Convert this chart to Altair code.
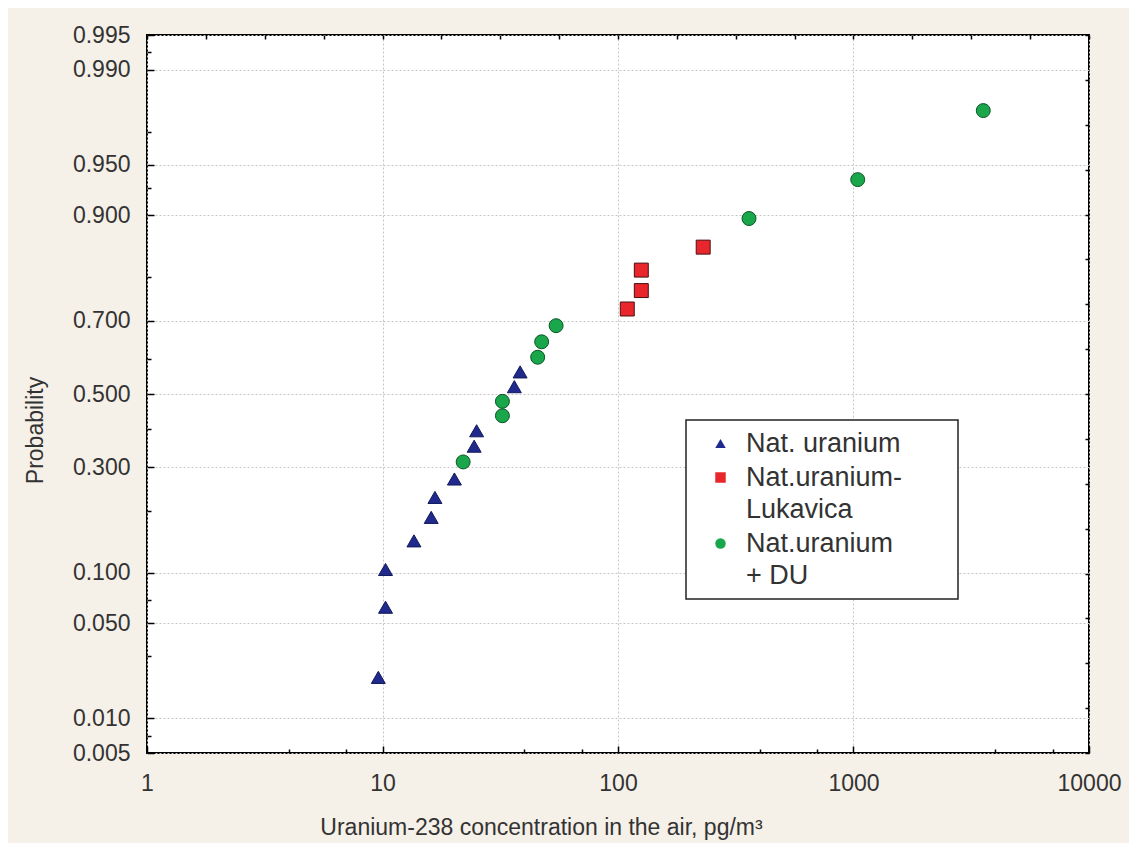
import altair as alt
import pandas as pd
from statistics import NormalDist

# ---- data ----
nat_x = [9.6, 10.3, 10.3, 13.6, 16.1, 16.7, 20.2, 24.5, 25.1, 36.3, 38.4]
nat_p = [0.021, 0.063, 0.104, 0.146, 0.188, 0.229, 0.271, 0.354, 0.396, 0.521, 0.563]
luk_x = [109.5, 125.6, 125.6, 230.0]
luk_p = [0.729, 0.771, 0.813, 0.854]
du_x = [22.0, 32.3, 32.3, 45.6, 47.4, 54.6, 360.0, 1042.0, 3557.0]
du_p = [0.313, 0.438, 0.479, 0.604, 0.646, 0.688, 0.896, 0.938, 0.979]

series_names = ["Nat. uranium", "Nat.uranium-Lukavica", "Nat.uranium + DU"]
series_fill = ["#1F2A8C", "#E8262B", "#1AA64A"]
series_stroke = ["#121a5a", "#4a1010", "#0b5426"]
series_shape = ["triangle-up", "square", "circle"]

y_major_p = [0.005, 0.010, 0.050, 0.100, 0.300, 0.500, 0.700, 0.900, 0.950, 0.990, 0.995]
y_minor_p = [0.007, 0.03, 0.07, 0.2, 0.4, 0.6, 0.8, 0.93, 0.97, 0.993]
x_major = [1, 10, 100, 1000, 10000]
x_minor = [4, 7, 40, 70, 400, 700, 4000, 7000]
x_top = [1, 1.778, 3.162, 5.623, 10, 17.78, 31.62, 56.23, 100, 177.8, 316.2, 562.3,
         1000, 1778, 3162, 5623, 10000]

rows = []
for name, xs, ps in zip(series_names, [nat_x, luk_x, du_x], [nat_p, luk_p, du_p]):
    for xv, pv in zip(xs, ps):
        rows.append({"series": name, "conc": xv, "prob": pv})
df = pd.DataFrame(rows)

nd = NormalDist()
zmax = nd.inv_cdf(0.995)
y_major = [nd.inv_cdf(p) for p in y_major_p]
y_minor = [nd.inv_cdf(p) for p in y_minor_p]
y_right = [zmax * k / 8 for k in range(-8, 9)]

FONT = "Liberation Sans"
TXT = "#333333"

x_scale = alt.Scale(type="log", domain=[1, 10000], nice=False)
y_scale = alt.Scale(domain=[-zmax, zmax], nice=False, zero=False)

base = alt.Chart(df).transform_calculate(z="quantileNormal(datum.prob)")

legend = alt.Legend(
    title=" ", titleOrient="right", titlePadding=46, titleFontSize=27,
    orient="none", legendX=539, legendY=385, direction="vertical",
    fillColor="white", strokeColor="#222222", padding=10,
    symbolSize=110, symbolOffset=11, symbolStrokeWidth=0, labelOffset=12,
    labelFont=FONT, labelFontSize=27, labelColor=TXT, rowPadding=6,
    labelLimit=400,
    labelExpr="datum.label == 'Nat.uranium-Lukavica' ? ['Nat.uranium-', 'Lukavica'] : "
              "(datum.label == 'Nat.uranium + DU' ? ['Nat.uranium', '+ DU'] : datum.label)",
)

points = base.mark_point(filled=True, size=195, strokeWidth=1, opacity=1).encode(
    x=alt.X("conc:Q", scale=x_scale, axis=alt.Axis(
        orient="bottom", values=x_major, format="d", grid=True, gridColor="#c4c4c4",
        gridDash=[2, 2], gridWidth=1, domain=False, tickColor="black", tickWidth=1.5,
        tickSize={"expr": "-7"}, labelPadding=26, labelFont=FONT, labelFontSize=23,
        labelColor=TXT, title="Uranium-238 concentration in the air, pg/m³",
        titleFont=FONT, titleFontSize=23, titleFontWeight="normal", titleColor=TXT,
        titleX=394, titleY=74, titleBaseline="middle", labelFlush=False)),
    y=alt.Y("z:Q", scale=y_scale, axis=alt.Axis(
        orient="left", values=y_major, grid=True, gridColor="#c4c4c4", gridDash=[2, 2],
        gridWidth=1, domain=False, tickColor="black", tickWidth=1.5,
        tickSize={"expr": "-7"}, labelPadding=24, labelFont=FONT, labelFontSize=23,
        labelColor=TXT, labelExpr="format(cumulativeNormal(datum.value), '.3f')",
        title="Probability", titleFont=FONT, titleFontSize=23, titleFontWeight="normal",
        titleColor=TXT, titleX=-112, titleY=395, titleBaseline="middle",
        labelFlush=False, labelOverlap=False)),
    fill=alt.Fill("series:N", scale=alt.Scale(domain=series_names, range=series_fill), legend=legend),
    shape=alt.Shape("series:N", scale=alt.Scale(domain=series_names, range=series_shape), legend=legend),
    stroke=alt.Stroke("series:N", scale=alt.Scale(domain=series_names, range=series_stroke), legend=None),
)

minor = base.mark_point(opacity=0).encode(
    x=alt.X("conc:Q", scale=x_scale, axis=alt.Axis(
        orient="bottom", values=x_minor, labels=False, grid=False, domain=False,
        tickColor="black", tickWidth=1.5, tickSize={"expr": "-4"}, title="")),
    y=alt.Y("z:Q", scale=y_scale, axis=alt.Axis(
        orient="left", values=y_minor, labels=False, grid=False, domain=False,
        tickColor="black", tickWidth=1.5, tickSize={"expr": "-4"}, title="")),
)

mirror = base.mark_point(opacity=0).encode(
    x=alt.X("conc:Q", scale=x_scale, axis=alt.Axis(
        orient="top", values=x_top, labels=False, grid=False, domain=False,
        tickColor="black", tickWidth=1.5, tickSize={"expr": "-4"}, title="")),
    y=alt.Y("z:Q", scale=y_scale, axis=alt.Axis(
        orient="right", values=y_right, labels=False, grid=False, domain=False,
        tickColor="black", tickWidth=1.5, tickSize={"expr": "-4"}, title="")),
)

chart = alt.layer(points, minor, mirror).resolve_axis(
    x="independent", y="independent"
).properties(
    width=942, height=718,
    autosize=alt.AutoSizeParams(type="none"),
    padding={"left": 139, "top": 27, "right": 40, "bottom": 90},
    background="#F5F0E8",
).configure(
    style={"guide-label": {"lineHeight": 32}}
).configure_view(
    stroke="black", strokeWidth=2, fill="white"
).configure_legend(strokeWidth=1.5)

chart.save("out.html", embed_options={"renderer": "svg", "actions": False})
